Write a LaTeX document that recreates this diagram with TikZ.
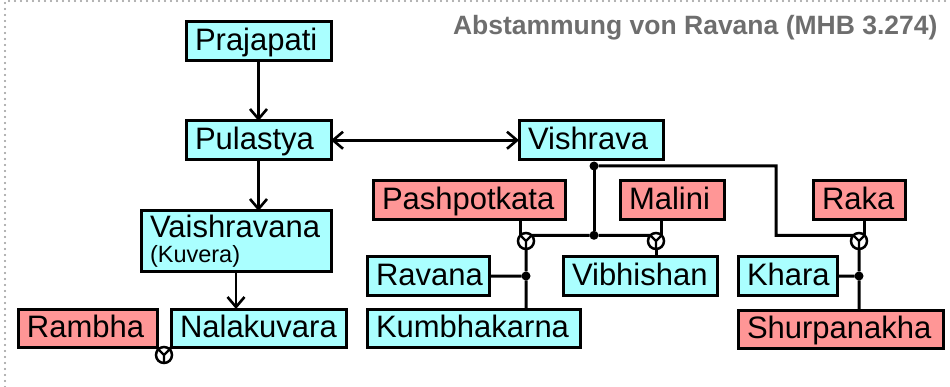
\documentclass[tikz,border=0pt]{standalone}
\usepackage{fontspec}
\setmainfont{Liberation Sans}
\usetikzlibrary{arrows.meta}
\hyphenpenalty=10000
\definecolor{kin}{HTML}{AAFFFF}
\definecolor{wife}{HTML}{FF9696}
\definecolor{titlegray}{HTML}{6E6E6E}
\tikzset{
	person/.style={draw=black, line width=3pt, fill=kin, anchor=north west, outer sep=0pt,
		inner xsep=9pt, inner ysep=0pt, minimum height=38.5pt, text width=#1pt, align=left,
		font=\fontsize{31}{36}\selectfont},
	oneline/.style={text height=23pt, text depth=4pt},
	female/.style={fill=wife},
	marry/.style={draw, circle, line width=2.5pt, minimum size=16pt, inner sep=0pt, outer sep=0pt},
	junct/.style={circle, fill, inner sep=0pt, minimum size=9pt, outer sep=0pt},
	kinline/.style={line width=3pt},
	barb/.tip={Straight Barb[length=10pt, width=17pt, line width=2.6pt]},
	descent/.style={line width=2.8pt, -barb}
}
\begin{document}
\begin{tikzpicture}[x=1pt, y=-1pt]
		\useasboundingbox (0,0) rectangle (950,387);
		\draw[gray!80, line width=2.2pt, dash pattern=on 0pt off 6pt, line cap=round] (5,387) -- (5,1) -- (950,1);
		\node[anchor=base east, text=titlegray, font=\bfseries\fontsize{26.5}{30}\selectfont] at (941,35)(title){Abstammung von Ravana (MHB 3.274)};
		\node[person=127, oneline] at (186,22)(prajapati){Prajapati};
		\node[person=127, oneline] at (186,121)(pulastya){Pulastya};
		\node[person=172, minimum height=61pt, font=\fontsize{31}{25}\selectfont] at (141,211)(vaish){Vaishravana\\{\fontsize{23.5}{25}\selectfont(Kuvera)}};
		\node[person=121, oneline, female] at (18,309)(rambha){Rambha};
		\node[person=157, oneline] at (171,309)(nala){Nalakuvara};
		\node[person=126, oneline] at (519,121)(vishrava){Vishrava};
		\node[person=174, oneline, female] at (373,181)(pash){Pashpotkata};
		\node[person=86, oneline, female] at (620,181)(malini){Malini};
		\node[person=74, oneline, female] at (813,181)(raka){Raka};
		\node[person=104, oneline] at (367,257)(ravana){Ravana};
		\node[person=195, oneline] at (367,309)(kumbha){Kumbhakarna};
		\node[person=136, oneline] at (563,257)(vibh){Vibhishan};
		\node[person=81, oneline] at (738,257)(khara){Khara};
		\node[person=187, oneline, female] at (738,310)(shurpa){Shurpanakha};
		\node[marry] at (164,355)(m1){};
		\node[marry] at (526,241)(m2){};
		\node[marry] at (656,241)(m3){};
		\node[marry] at (859,241)(m4){};
		\node[junct] at (594,166)(j1){};
		\node[junct] at (594,235.3)(j2){};
		\node[junct] at (526,276)(j3){};
		\node[junct] at (859,276)(j4){};
		\coordinate (bend) at (776,235.3);
		\foreach \m in {m1,m2,m3,m4}
			\draw[line width=2.2pt] (\m.135) -- (\m.center) -- (\m.45) (\m.center) -- (\m.south);
		\path[descent] (prajapati) edge (pulastya)
			(pulastya.south) edge (pulastya.south |- vaish.north)
			(vaish.south) edge (vaish.south |- nala.north);
		\path[descent, barb-barb] (pulastya) edge (vishrava);
		\draw[kinline] (rambha.south east) -- (m1.135) (nala.south west) -- (m1.45);
		\draw[kinline] (vishrava.south -| j1) -- (j1) -- (j2);
		\draw[kinline] (m2.45) -- (j2) -- (m3.135);
		\draw[kinline] (pash.south -| m2.135) -- (m2.135);
		\draw[kinline] (malini.south -| m3.45) -- (m3.45);
		\draw[kinline] (m2.south) -- (j3) -- (j3 |- kumbha.north) (ravana) -- (j3);
		\draw[kinline] (m3.south) -- (m3.south |- vibh.north);
		\draw[kinline] (j1) -| (bend) -- (m4.135);
		\draw[kinline] (raka.south -| m4.45) -- (m4.45);
		\draw[kinline] (m4.south) -- (j4) -- (j4 |- shurpa.north) (khara) -- (j4);
	\end{tikzpicture}
\end{document}
